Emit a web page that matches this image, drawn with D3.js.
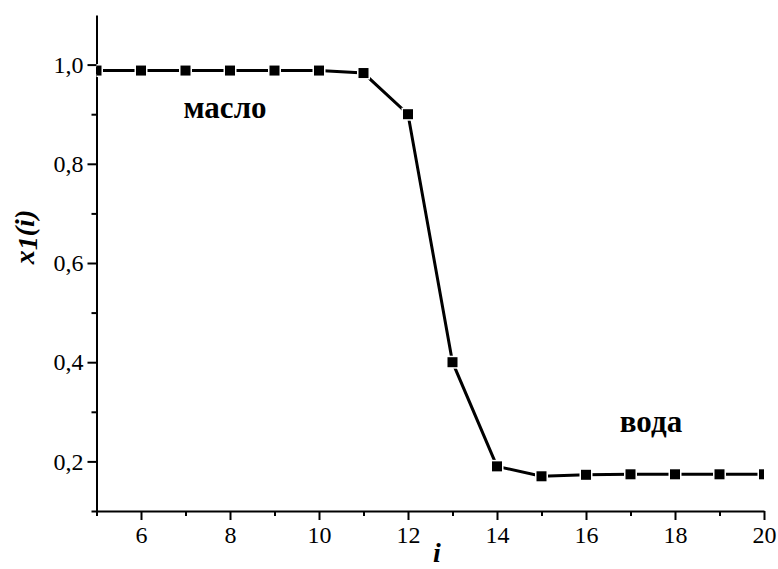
<!DOCTYPE html>
<html lang="ru">
<head>
    <meta charset="UTF-8">
    <title>x1(i)</title>
    <style>
        body { margin: 0; background: #fff; }
        svg { display: block; }
        .domain, .tick line { stroke: #000; stroke-width: 2px; }
    </style>
</head>
<body>
    <div id="chart"></div>
    <script src="https://d3js.org/d3.v7.min.js"></script>
    <script>
        // values
        const iValues = [5, 6, 7, 8, 9, 10, 11, 12, 13, 14, 15, 16, 17, 18, 19, 20];
        const x1Values = [0.988, 0.988, 0.988, 0.988, 0.988, 0.988, 0.983, 0.9, 0.4, 0.19, 0.17, 0.173, 0.174, 0.174, 0.174, 0.174];
        const xTicks = [6, 8, 10, 12, 14, 16, 18, 20];
        const xMinor = [5, 7, 9, 11, 13, 15, 17, 19];
        const yTicks = [0.2, 0.4, 0.6, 0.8, 1.0];
        const yMinor = [0.1, 0.3, 0.5, 0.7, 0.9];

        const width = 778, height = 569;
        const serif = "'Liberation Serif', 'Times New Roman', serif";
        const svg = d3.select("#chart").append("svg")
            .attr("width", width).attr("height", height);

        const x = d3.scaleLinear().domain([5, 20]).range([96.5, 764]);
        const y = d3.scaleLinear().domain([0.1, 1.1]).range([511, 15]);
        const fmt = d => d3.format(".1f")(d).replace(".", ",");

        // minor ticks first
        svg.append("g").attr("transform", "translate(0,511)")
            .call(d3.axisBottom(x).tickValues(xMinor).tickSize(5).tickFormat(""))
            .select(".domain").remove();
        svg.append("g").attr("transform", "translate(96.5,0)")
            .call(d3.axisLeft(y).tickValues(yMinor).tickSize(5).tickFormat(""))
            .select(".domain").remove();

        const gx = svg.append("g").attr("transform", "translate(0,511)")
            .call(d3.axisBottom(x).tickValues(xTicks).tickSize(9).tickSizeOuter(0).tickPadding(6));
        const gy = svg.append("g").attr("transform", "translate(96.5,0)")
            .call(d3.axisLeft(y).tickValues(yTicks).tickFormat(fmt).tickSize(9).tickSizeOuter(0).tickPadding(4));
        [gx, gy].forEach(g => g.selectAll("text")
            .style("font-family", serif).style("font-size", "24px").style("fill", "#000"));

        svg.append("clipPath").attr("id", "clip")
            .append("rect").attr("x", 96.5).attr("y", 15).attr("width", 764 - 96.5).attr("height", 496);

        const data = iValues.map((d, k) => ({ i: d, v: x1Values[k] }));
        const plot = svg.append("g").attr("clip-path", "url(#clip)");

        plot.append("path").datum(data)
            .attr("fill", "none").attr("stroke", "#000").attr("stroke-width", 3)
            .attr("d", d3.line().x(d => x(d.i)).y(d => y(d.v)));

        plot.selectAll("rect.pt").data(data).enter().append("rect")
            .attr("class", "pt")
            .attr("x", d => x(d.i) - 5).attr("y", d => y(d.v) - 5)
            .attr("width", 10).attr("height", 10)
            .attr("fill", "#000").attr("stroke", "#fff").attr("stroke-width", 3)
            .attr("paint-order", "stroke");

        // annotations
        svg.append("text").attr("x", 225).attr("y", 118).attr("text-anchor", "middle")
            .style("font-family", serif).attr("font-size", 31).attr("font-weight", "bold").text("масло");
        svg.append("text").attr("x", 651).attr("y", 432).attr("text-anchor", "middle")
            .style("font-family", serif).attr("font-size", 31).attr("font-weight", "bold").text("вода");

        // axis titles
        svg.append("text").attr("x", 437).attr("y", 562).attr("text-anchor", "middle")
            .style("font-family", serif).attr("font-size", 28).attr("font-weight", "bold")
            .attr("font-style", "italic").text("i");

        const yl = svg.append("text")
            .attr("transform", "translate(34,237) rotate(-90)")
            .attr("text-anchor", "middle")
            .style("font-family", serif).attr("font-size", 28).attr("font-weight", "bold")
            .attr("font-style", "italic");
        yl.append("tspan").text("x");
        yl.append("tspan").attr("dy", 3).text("1");
        yl.append("tspan").attr("dy", -3).text("(i)");
    </script>
</body>
</html>
